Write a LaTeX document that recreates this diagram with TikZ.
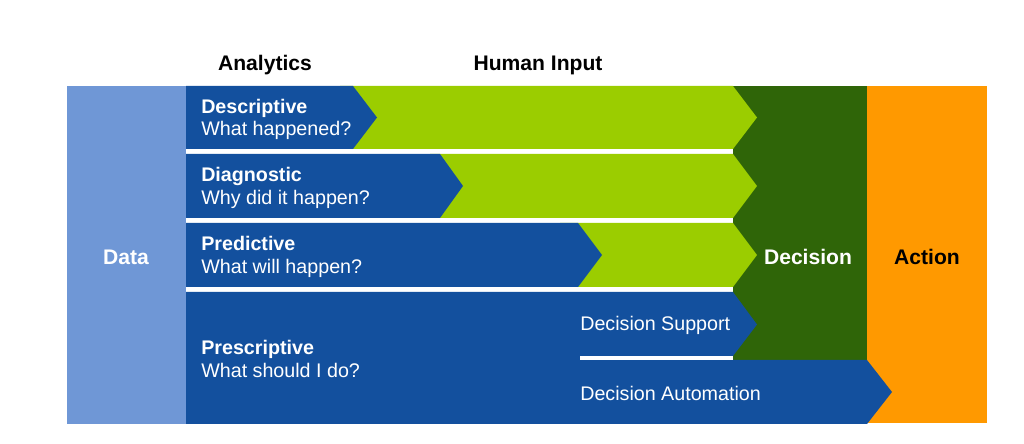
\documentclass[tikz,border=0pt]{standalone}
\usepackage{fontspec}
\setmainfont{Liberation Sans}
\usepackage{tikz}
\usetikzlibrary{positioning}

\definecolor{databg}{RGB}{111,151,214}
\definecolor{anblue}{RGB}{19,80,158}
\definecolor{humgreen}{RGB}{155,205,0}
\definecolor{decgreen}{RGB}{47,101,8}
\definecolor{actorange}{RGB}{255,153,0}

\begin{document}
\begin{tikzpicture}[x=0.025cm,y=-0.025cm,
    head/.style={font=\fontsize{15}{17}\selectfont\bfseries},
    rowlabel/.style={anchor=west, align=left, text=white, inner sep=0pt,
      font=\fontsize{14}{16}\selectfont},
    sublabel/.style={anchor=west, text=white, inner sep=0pt,
      font=\fontsize{14}{16}\selectfont}]
    \useasboundingbox (0,0) rectangle (1024,444);

    % columns
    \fill[databg] (67,86) rectangle (186,424);
    \fill[actorange] (867,86) rectangle (987,423);
    \fill[decgreen] (733,86) rectangle (867,360);

    % human input
    \fill[humgreen] (340,86) -- (733,86) -- (757,117.5) -- (733,149) -- (340,149) -- cycle;
    \fill[humgreen] (430,154) -- (733,154) -- (757,186) -- (733,218) -- (430,218) -- cycle;
    \fill[humgreen] (560,223) -- (733,223) -- (757,255) -- (733,287) -- (560,287) -- cycle;

    % analytics
    \fill[anblue] (186,86) -- (353,86) -- (377,117.5) -- (353,149) -- (186,149) -- cycle;
    \fill[anblue] (186,154) -- (440,154) -- (463,186) -- (440,218) -- (186,218) -- cycle;
    \fill[anblue] (186,223) -- (578,223) -- (602,255) -- (578,287) -- (186,287) -- cycle;
    \fill[anblue] (186,292) -- (733,292) -- (757,324.5) -- (733,356) -- (733,360)
      -- (867,360) -- (892,392) -- (867,424) -- (186,424) -- cycle;
    \fill[white] (580,356) rectangle (733,360);

    \node[head] (analytics) at (265,65) {Analytics};
    \node[head] (human) at (538,65) {Human Input};

    \node[head, text=white] (data) at (126,257) {Data};
    \node[head, text=white] (decision) at (808,257) {Decision};
    \node[head] (action) at (927,257) {Action};

    \node[rowlabel] (desc) at (201,119.5) {\textbf{Descriptive}\\What happened?};
    \node[rowlabel] (diag) at (201,188) {\textbf{Diagnostic}\\Why did it happen?};
    \node[rowlabel] (pred) at (201,257) {\textbf{Predictive}\\What will happen?};
    \node[rowlabel] (pres) at (201,359) {\textbf{Prescriptive}\\What should I do?};

    \node[sublabel] (support) at (580,325) {Decision Support};
    \node[sublabel] (auto) at (580,393) {Decision Automation};
  \end{tikzpicture}
\end{document}
